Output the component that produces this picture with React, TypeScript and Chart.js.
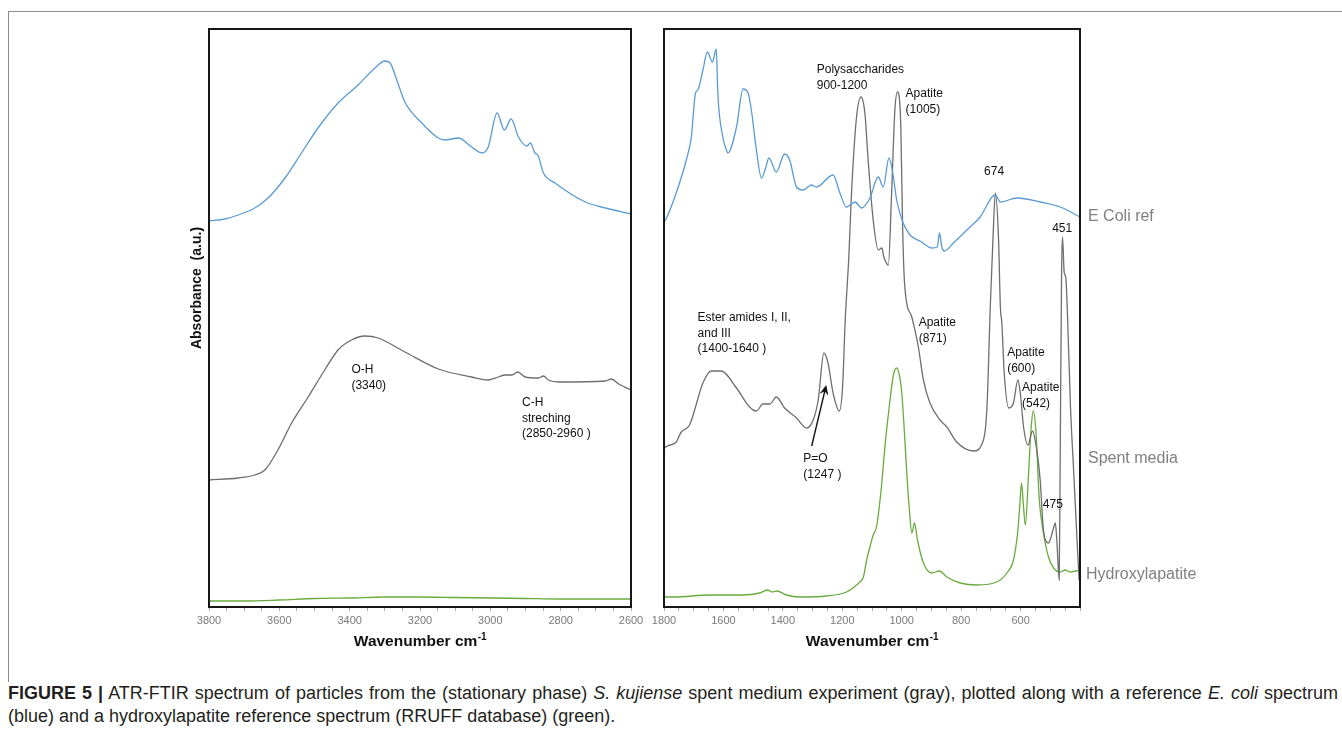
import React, { useEffect, useRef } from "react";
import { Chart, registerables } from "chart.js";

Chart.register(...registerables);

const FONT = '"Liberation Sans", Arial, Helvetica, sans-serif';
const NARROW = '"Liberation Sans Narrow", "Arial Narrow", "Liberation Sans", Arial, sans-serif';

const BLUE = "#5b9bd5";
const GRAY = "#6e6e6e";
const GREEN = "#68ab3c";

// ---------- Left panel: 3800–2600 cm-1 ----------
const highEcoliWn = [3800, 3755, 3717, 3670, 3632, 3584, 3537, 3490, 3433, 3376, 3328, 3300, 3285, 3266, 3243, 3195, 3148, 3129, 3091, 3053, 3024, 3006, 2981, 2960, 2941, 2920, 2896, 2886, 2873, 2865, 2849, 2816, 2730, 2673, 2600];
const highEcoliAbs = [386, 388, 392, 399, 409, 429, 454, 479, 504, 522, 539, 546, 544, 527, 505, 484, 469, 467, 469, 460, 454, 460, 494, 477, 488, 470, 461, 464, 454, 452, 434, 424, 405, 399, 393];

const highSpentWn = [3800, 3717, 3670, 3641, 3604, 3565, 3518, 3471, 3433, 3395, 3357, 3319, 3243, 3148, 3053, 3006, 2977, 2958, 2939, 2922, 2901, 2863, 2849, 2835, 2806, 2673, 2656, 2635, 2600];
const highSpentAbs = [127, 129, 132, 137, 157, 184, 210, 237, 257, 267, 271, 269, 255, 238, 230, 227, 230, 232, 232, 235, 230, 229, 231, 227, 225, 226, 228, 223, 217];

const highHapWn = [3800, 3700, 3600, 3500, 3400, 3300, 3200, 3100, 3000, 2900, 2800, 2700, 2600];
const highHapAbs = [6, 6, 7, 8.5, 9, 10, 10, 9.5, 9, 8.5, 8, 8, 8];

// ---------- Right panel: 1800–400 cm-1 ----------
const lowEcoliWn = [1800, 1795, 1759, 1725, 1708, 1694, 1686, 1669, 1654, 1637, 1624, 1619, 1602, 1590, 1585, 1556, 1534, 1517, 1506, 1489, 1472, 1458, 1447, 1422, 1394, 1377, 1354, 1332, 1304, 1287, 1231, 1208, 1186, 1157, 1135, 1107, 1079, 1062, 1043, 1030, 1017, 995, 972, 933, 899, 880, 873, 865, 857, 826, 770, 736, 696, 685, 668, 612, 534, 466, 400];
const lowEcoliAbs = [385, 387, 414, 447, 470, 514, 517, 537, 555, 545, 558, 514, 470, 457, 454, 480, 518, 514, 497, 457, 429, 439, 449, 435, 453, 447, 420, 417, 422, 420, 432, 414, 400, 405, 399, 409, 430, 420, 449, 434, 407, 384, 372, 365, 359, 360, 374, 360, 356, 364, 380, 390, 410, 412, 405, 409, 405, 400, 390];

const lowSpentWn = [1800, 1795, 1759, 1742, 1714, 1669, 1641, 1607, 1556, 1512, 1489, 1467, 1444, 1422, 1394, 1354, 1320, 1298, 1281, 1262, 1248, 1231, 1210, 1199, 1190, 1178, 1169, 1152, 1137, 1124, 1113, 1096, 1079, 1067, 1060, 1045, 1034, 1023, 1014, 1003, 997, 990, 966, 961, 944, 927, 905, 871, 848, 815, 759, 725, 713, 702, 693, 685, 674, 668, 663, 655, 640, 624, 609, 601, 590, 575, 560, 547, 534, 523, 506, 491, 483, 478, 470, 467, 462, 459, 453, 448, 443, 432, 421, 410, 403];
const lowSpentAbs = [158, 160, 165, 175, 182, 224, 236, 236, 219, 200, 196, 203, 203, 210, 199, 189, 179, 187, 207, 254, 244, 214, 196, 220, 288, 350, 414, 490, 510, 494, 447, 387, 357, 359, 350, 342, 414, 497, 515, 480, 380, 322, 290, 284, 260, 227, 204, 187, 180, 165, 156, 167, 200, 300, 367, 414, 367, 300, 284, 234, 199, 204, 227, 214, 180, 162, 176, 160, 127, 77, 64, 77, 84, 67, 27, 134, 334, 370, 334, 330, 300, 200, 134, 67, 27];

const lowHapWn = [1800, 1765, 1647, 1534, 1478, 1452, 1436, 1420, 1388, 1343, 1253, 1186, 1152, 1141, 1129, 1118, 1107, 1096, 1085, 1070, 1055, 1040, 1028, 1017, 1008, 1000, 990, 983, 975, 966, 957, 947, 927, 899, 873, 848, 803, 747, 680, 646, 624, 610, 603, 597, 590, 584, 573, 565, 557, 548, 537, 523, 506, 489, 467, 450, 433, 415, 400];
const lowHapAbs = [10, 10, 12, 12, 14, 17, 15, 16, 12, 10, 11, 15, 22, 25, 30, 47, 60, 72, 80, 115, 165, 205, 232, 239, 232, 215, 170, 134, 100, 74, 84, 67, 44, 34, 36, 30, 24, 22, 25, 34, 47, 74, 100, 124, 100, 82, 134, 177, 196, 174, 107, 74, 50, 39, 35, 37, 35, 36, 37];

// ---------- Axis tick labels ----------
const leftTickLabels = [3800, 3600, 3400, 3200, 3000, 2800, 2600];
const rightTickLabels = [1800, 1600, 1400, 1200, 1000, 800, 600];

// ---------- Annotations (anchored in data units) ----------
const leftNotes = [
  { wn: 3395, abs: 237, lines: ["O-H", "(3340)"], align: "left" },
  { wn: 2910, abs: 204, lines: ["C-H", "streching", "(2850-2960 )"], align: "left" },
];
const rightNotes = [
  { wn: 1286, abs: 537, lines: ["Polysaccharides", "900-1200"], align: "left" },
  { wn: 987, abs: 513, lines: ["Apatite", "(1005)"], align: "left" },
  { wn: 689, abs: 435, lines: ["674"], align: "center" },
  { wn: 460, abs: 378, lines: ["451"], align: "center" },
  { wn: 1687, abs: 289, lines: ["Ester amides I, II,", "and III", "(1400-1640 )"], align: "left" },
  { wn: 943, abs: 284, lines: ["Apatite", "(871)"], align: "left" },
  { wn: 645, abs: 254, lines: ["Apatite", "(600)"], align: "left" },
  { wn: 595, abs: 219, lines: ["Apatite", "(542)"], align: "left" },
  { wn: 525, abs: 102, lines: ["475"], align: "left" },
  { wn: 1331, abs: 148, lines: ["P=O", "(1247 )"], align: "left" },
];
const poArrow = { fromWn: 1303, fromAbs: 161, toWn: 1254, toAbs: 222 };

const seriesNames = ["E Coli ref", "Spent media", "Hydroxylapatite"];
const seriesNameAbs = [390, 148, 32];

const pts = (xs: number[], ys: number[]) => xs.map((x, i) => ({ x, y: ys[i] }));

const ds = (xs: number[], ys: number[], color: string) => ({
  data: pts(xs, ys),
  borderColor: color,
  backgroundColor: color,
  borderWidth: 1.3,
  pointRadius: 0,
  fill: false,
  cubicInterpolationMode: "monotone",
});

function drawAxisTitle(ctx: CanvasRenderingContext2D, cx: number, cy: number) {
  const mainFont = `bold 15.5px ${FONT}`;
  const supFont = `bold 10px ${FONT}`;
  const main = "Wavenumber cm";
  const sup = "-1";
  ctx.font = mainFont;
  const w1 = ctx.measureText(main).width;
  ctx.font = supFont;
  const w2 = ctx.measureText(sup).width;
  const x0 = cx - (w1 + w2) / 2;
  ctx.fillStyle = "#111";
  ctx.textAlign = "left";
  ctx.textBaseline = "middle";
  ctx.font = mainFont;
  ctx.fillText(main, x0, cy);
  ctx.font = supFont;
  ctx.fillText(sup, x0 + w1 + 0.5, cy - 5);
}

function makeConfig(o: any) {
  const { datasets, min, max, labels, padding, notes, isLeft } = o;
  return {
    type: "line",
    data: { datasets },
    options: {
      responsive: false,
      animation: false,
      devicePixelRatio: 1,
      layout: { padding },
      plugins: { legend: { display: false }, tooltip: { enabled: false }, title: { display: false } },
      scales: {
        x: {
          type: "linear",
          min,
          max,
          reverse: true,
          afterBuildTicks: (axis: any) => {
            const t: any[] = [];
            for (let v = min; v <= max; v += 50) t.push({ value: v });
            axis.ticks = t;
          },
          ticks: {
            autoSkip: false,
            maxRotation: 0,
            minRotation: 0,
            color: "#7a7a7a",
            font: { family: FONT, size: 11 },
            padding: 3,
            callback: (v: any) => (labels.includes(Number(v)) ? String(v) : ""),
          },
          grid: { drawOnChartArea: false, drawTicks: true, tickLength: 4, color: "#a8a8a8", lineWidth: 1 },
          border: { display: false },
          afterFit: (axis: any) => {
            axis.height = 63;
          },
        },
        y: { display: false, min: 0, max: 578 },
      },
    },
    plugins: [
      {
        id: "decor",
        afterDraw(chart: any) {
          const { ctx, chartArea: a, scales } = chart;
          const sx = scales.x;
          const sy = scales.y;
          ctx.save();
          ctx.strokeStyle = "#161616";
          ctx.lineWidth = 2;
          ctx.strokeRect(a.left, a.top, a.right - a.left, a.bottom - a.top);
          ctx.fillStyle = "#111";
          ctx.font = `12px ${FONT}`;
          ctx.textBaseline = "middle";
          notes.forEach((n: any) => {
            const x = sx.getPixelForValue(n.wn);
            const y = sy.getPixelForValue(n.abs);
            ctx.textAlign = n.align;
            n.lines.forEach((l: string, i: number) => ctx.fillText(l, x, y + i * 15.5));
          });
          drawAxisTitle(ctx, (a.left + a.right) / 2, a.bottom + 35);
          if (isLeft) {
            ctx.save();
            ctx.translate(a.left - 12, a.top + 259);
            ctx.rotate(-Math.PI / 2);
            ctx.font = `bold 14px ${FONT}`;
            ctx.fillStyle = "#111";
            ctx.textAlign = "center";
            ctx.textBaseline = "middle";
            ctx.fillText("Absorbance  (a.u.)", 0, 0);
            ctx.restore();
          } else {
            const x1 = sx.getPixelForValue(poArrow.fromWn);
            const y1 = sy.getPixelForValue(poArrow.fromAbs);
            const x2 = sx.getPixelForValue(poArrow.toWn);
            const y2 = sy.getPixelForValue(poArrow.toAbs);
            const ang = Math.atan2(y2 - y1, x2 - x1);
            const hl = 10;
            const hw = 4.5;
            ctx.strokeStyle = "#111";
            ctx.lineWidth = 1.4;
            ctx.beginPath();
            ctx.moveTo(x1, y1);
            ctx.lineTo(x2 - Math.cos(ang) * hl * 0.6, y2 - Math.sin(ang) * hl * 0.6);
            ctx.stroke();
            ctx.fillStyle = "#111";
            ctx.beginPath();
            ctx.moveTo(x2, y2);
            const bx = x2 - Math.cos(ang) * hl;
            const by = y2 - Math.sin(ang) * hl;
            ctx.lineTo(bx + Math.sin(ang) * hw, by - Math.cos(ang) * hw);
            ctx.lineTo(x2 - Math.cos(ang) * hl * 0.65, y2 - Math.sin(ang) * hl * 0.65);
            ctx.lineTo(bx - Math.sin(ang) * hw, by + Math.cos(ang) * hw);
            ctx.closePath();
            ctx.fill();
            ctx.font = `16px ${NARROW}`;
            ctx.fillStyle = "#808080";
            ctx.textAlign = "left";
            ctx.textBaseline = "middle";
            seriesNames.forEach((s, i) => {
              ctx.fillText(s, a.right + (i === 2 ? 6 : 8), sy.getPixelForValue(seriesNameAbs[i]));
            });
          }
          ctx.restore();
        },
      },
    ],
  };
}

export default function App() {
  const leftRef = useRef<HTMLCanvasElement | null>(null);
  const rightRef = useRef<HTMLCanvasElement | null>(null);

  useEffect(() => {
    const left = new Chart(
      leftRef.current as HTMLCanvasElement,
      makeConfig({
        datasets: [
          ds(highEcoliWn, highEcoliAbs, BLUE),
          ds(highSpentWn, highSpentAbs, GRAY),
          ds(highHapWn, highHapAbs, GREEN),
        ],
        min: 2600,
        max: 3800,
        labels: leftTickLabels,
        padding: { left: 59, right: 19, top: 29, bottom: 0 },
        notes: leftNotes,
        isLeft: true,
      }) as any
    );
    const right = new Chart(
      rightRef.current as HTMLCanvasElement,
      makeConfig({
        datasets: [
          ds(lowEcoliWn, lowEcoliAbs, BLUE),
          ds(lowSpentWn, lowSpentAbs, GRAY),
          ds(lowHapWn, lowHapAbs, GREEN),
        ],
        min: 400,
        max: 1800,
        labels: rightTickLabels,
        padding: { left: 24, right: 262, top: 29, bottom: 0 },
        notes: rightNotes,
        isLeft: false,
      }) as any
    );
    return () => {
      left.destroy();
      right.destroy();
    };
  }, []);

  return (
    <div style={{ position: "absolute", left: 0, top: 0, width: 1342, height: 734, background: "#fff", overflow: "hidden" }}>
      <div style={{ position: "absolute", left: 8, top: 11, width: 1334, height: 1, background: "#8c8c8c" }} />
      <div style={{ position: "absolute", left: 8, top: 11, width: 1, height: 671, background: "#8c8c8c" }} />
      <canvas ref={leftRef} width={500} height={670} style={{ position: "absolute", left: 150, top: 0, width: 500, height: 670 }} />
      <canvas ref={rightRef} width={702} height={670} style={{ position: "absolute", left: 640, top: 0, width: 702, height: 670 }} />
      <div
        style={{
          position: "absolute",
          left: 8,
          top: 682,
          width: 1330,
          fontFamily: FONT,
          fontSize: 18,
          lineHeight: "23px",
          color: "#231f20",
          whiteSpace: "nowrap",
        }}
      >
        <div style={{ textAlign: "justify", textAlignLast: "justify" as any, whiteSpace: "normal" }}>
          <b>FIGURE 5 |</b> ATR-FTIR spectrum of particles from the (stationary phase) <i>S. kujiense</i> spent medium
          experiment (gray), plotted along with a reference <i>E. coli</i> spectrum
        </div>
        <div>(blue) and a hydroxylapatite reference spectrum (RRUFF database) (green).</div>
      </div>
    </div>
  );
}
